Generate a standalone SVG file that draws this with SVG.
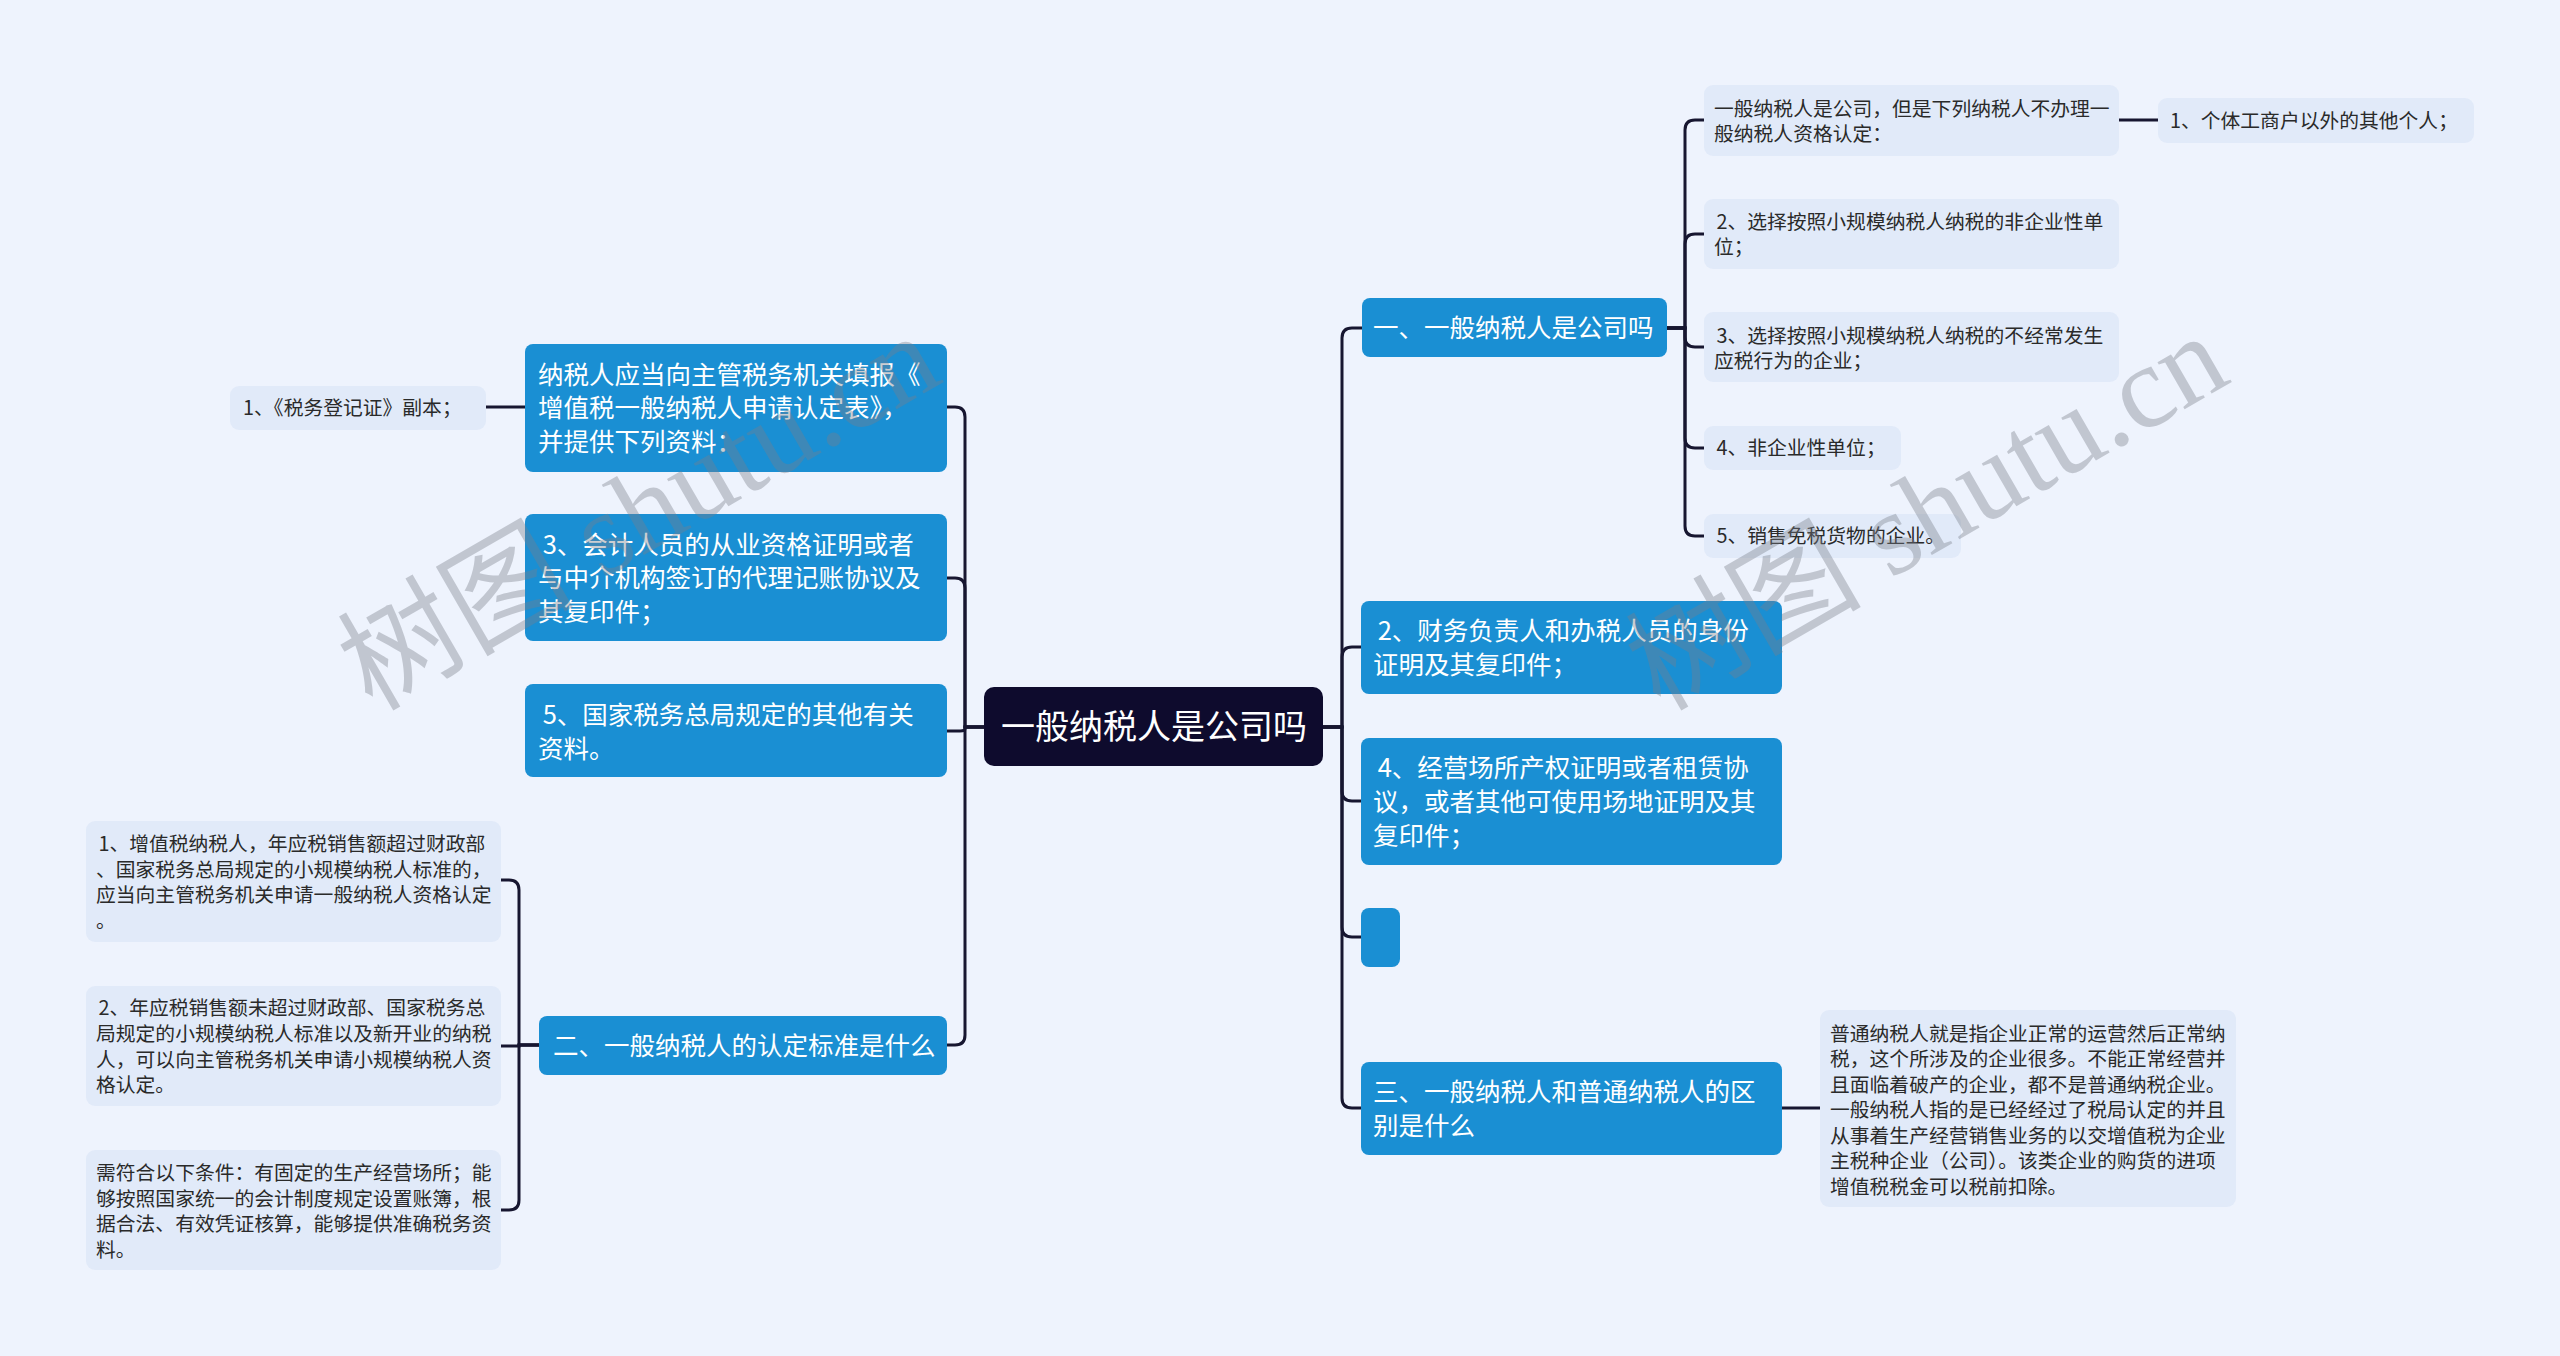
<svg xmlns="http://www.w3.org/2000/svg" width="2560" height="1356" viewBox="0 0 2560 1356">
<style>
.bg{fill:#eef3fd}
.root{fill:#0e0b2d}
.blue{fill:#1a8fd3}
.lite{fill:#e1eaf9}
.ln{fill:none;stroke:#171630;stroke-width:3;stroke-linecap:round}
text{font-family:"Noto Sans CJK SC","Noto Sans",sans-serif;dominant-baseline:central;white-space:pre}
.tr{fill:#ffffff;font-size:34px}
.tb{fill:#ffffff;font-size:25.5px}
.ts{fill:#2a2a2a;font-size:19.8px}
.wm{font-family:"Liberation Serif","Noto Sans CJK SC",serif;font-size:118px;fill:#7a7f8a;opacity:0.38;dominant-baseline:alphabetic}
</style>
<rect class="bg" x="0" y="0" width="2560" height="1356"/>

<g id="connectors">
<path class="ln" d="M1323 727 H1342 V338 Q1342 328 1352 328 H1362"/>
<path class="ln" d="M1323 727 H1342 V657 Q1342 647 1352 647 H1361"/>
<path class="ln" d="M1323 727 H1342 V791 Q1342 801 1352 801 H1361"/>
<path class="ln" d="M1323 727 H1342 V927 Q1342 937 1352 937 H1361"/>
<path class="ln" d="M1323 727 H1342 V1098 Q1342 1108 1352 1108 H1361"/>
<path class="ln" d="M1667 328 H1685 V130 Q1685 120 1695 120 H1704"/>
<path class="ln" d="M1667 328 H1685 V244 Q1685 234 1695 234 H1704"/>
<path class="ln" d="M1667 328 H1685 V337 Q1685 347 1695 347 H1704"/>
<path class="ln" d="M1667 328 H1685 V438 Q1685 448 1695 448 H1704"/>
<path class="ln" d="M1667 328 H1685 V526 Q1685 536 1695 536 H1704"/>
<path class="ln" d="M2119 120 H2158"/>
<path class="ln" d="M1782 1108 H1820"/>
<path class="ln" d="M984 727 H965 V417 Q965 407 955 407 H947"/>
<path class="ln" d="M984 727 H965 V588 Q965 578 955 578 H947"/>
<path class="ln" d="M984 727 H965 V729 Q965 731 960 731 H947"/>
<path class="ln" d="M984 727 H965 V1035 Q965 1045 955 1045 H947"/>
<path class="ln" d="M525 407 H486"/>
<path class="ln" d="M539 1045 H519 V890 Q519 880 509 880 H501"/>
<path class="ln" d="M539 1045 H519 V1046 H501"/>
<path class="ln" d="M539 1045 H519 V1200 Q519 1210 509 1210 H501"/>
</g>

<g id="root">
<rect class="root" x="984" y="687" width="339" height="79" rx="10"/>
<text class="tr" x="1001" y="724">一般纳税人是公司吗</text>
</g>

<g id="n-r1">
<rect class="blue" x="1362" y="298" width="305" height="59" rx="8"/>
<text class="tb" x="1373" y="325">一、一般纳税人是公司吗</text>
</g>
<g id="n-r1a">
<rect class="lite" x="1704" y="85" width="415" height="71" rx="9"/>
<text class="ts" x="1714" y="107">一般纳税人是公司，但是下列纳税人不办理一</text>
<text class="ts" x="1714" y="132">般纳税人资格认定：</text>
</g>
<g id="n-r1a1">
<rect class="lite" x="2158" y="98" width="316" height="45" rx="9"/>
<text class="ts" x="2170" y="119">1、个体工商户以外的其他个人；</text>
</g>
<g id="n-r1b">
<rect class="lite" x="1704" y="199" width="415" height="70" rx="9"/>
<text class="ts" x="1712" y="220"> 2、选择按照小规模纳税人纳税的非企业性单</text>
<text class="ts" x="1714" y="245">位；</text>
</g>
<g id="n-r1c">
<rect class="lite" x="1704" y="312" width="415" height="70" rx="9"/>
<text class="ts" x="1712" y="334"> 3、选择按照小规模纳税人纳税的不经常发生</text>
<text class="ts" x="1714" y="359">应税行为的企业；</text>
</g>
<g id="n-r1d">
<rect class="lite" x="1704" y="426" width="197" height="44" rx="9"/>
<text class="ts" x="1712" y="446"> 4、非企业性单位；</text>
</g>
<g id="n-r1e">
<rect class="lite" x="1704" y="514" width="257" height="44" rx="9"/>
<text class="ts" x="1712" y="534"> 5、销售免税货物的企业。</text>
</g>

<g id="n-r2">
<rect class="blue" x="1361" y="601" width="421" height="93" rx="8"/>
<text class="tb" x="1372" y="628"> 2、财务负责人和办税人员的身份</text>
<text class="tb" x="1373" y="662">证明及其复印件；</text>
</g>
<g id="n-r3">
<rect class="blue" x="1361" y="738" width="421" height="127" rx="8"/>
<text class="tb" x="1372" y="765"> 4、经营场所产权证明或者租赁协</text>
<text class="tb" x="1373" y="799">议，或者其他可使用场地证明及其</text>
<text class="tb" x="1373" y="833">复印件；</text>
</g>
<g id="n-r4">
<rect class="blue" x="1361" y="908" width="39" height="59" rx="8"/>
</g>
<g id="n-r5">
<rect class="blue" x="1361" y="1062" width="421" height="93" rx="8"/>
<text class="tb" x="1373" y="1089">三、一般纳税人和普通纳税人的区</text>
<text class="tb" x="1373" y="1123">别是什么</text>
</g>
<g id="n-r5a">
<rect class="lite" x="1820" y="1010" width="416" height="197" rx="9"/>
<text class="ts" x="1830" y="1032">普通纳税人就是指企业正常的运营然后正常纳</text>
<text class="ts" x="1830" y="1057">税，这个所涉及的企业很多。不能正常经营并</text>
<text class="ts" x="1830" y="1083">且面临着破产的企业，都不是普通纳税企业。</text>
<text class="ts" x="1830" y="1108">一般纳税人指的是已经经过了税局认定的并且</text>
<text class="ts" x="1830" y="1134">从事着生产经营销售业务的以交增值税为企业</text>
<text class="ts" x="1830" y="1159">主税种企业（公司）。该类企业的购货的进项</text>
<text class="ts" x="1830" y="1185">增值税税金可以税前扣除。</text>
</g>

<g id="n-l1">
<rect class="blue" x="525" y="344" width="422" height="128" rx="8"/>
<text class="tb" x="538" y="372">纳税人应当向主管税务机关填报《</text>
<text class="tb" x="538" y="405">增值税一般纳税人申请认定表》，</text>
<text class="tb" x="538" y="439">并提供下列资料：</text>
</g>
<g id="n-l1a">
<rect class="lite" x="230" y="386" width="256" height="44" rx="9"/>
<text class="ts" x="243" y="406">1、《税务登记证》副本；</text>
</g>
<g id="n-l2">
<rect class="blue" x="525" y="514" width="422" height="127" rx="8"/>
<text class="tb" x="537" y="542"> 3、会计人员的从业资格证明或者</text>
<text class="tb" x="538" y="575">与中介机构签订的代理记账协议及</text>
<text class="tb" x="538" y="609">其复印件；</text>
</g>
<g id="n-l3">
<rect class="blue" x="525" y="684" width="422" height="93" rx="8"/>
<text class="tb" x="537" y="712"> 5、国家税务总局规定的其他有关</text>
<text class="tb" x="538" y="746">资料。</text>
</g>
<g id="n-l4">
<rect class="blue" x="539" y="1016" width="408" height="59" rx="8"/>
<text class="tb" x="553" y="1043">二、一般纳税人的认定标准是什么</text>
</g>
<g id="n-l4a">
<rect class="lite" x="86" y="821" width="415" height="121" rx="9"/>
<text class="ts" x="94" y="842"> 1、增值税纳税人，年应税销售额超过财政部</text>
<text class="ts" x="96" y="868">、国家税务总局规定的小规模纳税人标准的，</text>
<text class="ts" x="96" y="893">应当向主管税务机关申请一般纳税人资格认定</text>
<text class="ts" x="96" y="919">。</text>
</g>
<g id="n-l4b">
<rect class="lite" x="86" y="986" width="415" height="120" rx="9"/>
<text class="ts" x="94" y="1006"> 2、年应税销售额未超过财政部、国家税务总</text>
<text class="ts" x="96" y="1032">局规定的小规模纳税人标准以及新开业的纳税</text>
<text class="ts" x="96" y="1058">人，可以向主管税务机关申请小规模纳税人资</text>
<text class="ts" x="96" y="1083">格认定。</text>
</g>
<g id="n-l4c">
<rect class="lite" x="86" y="1150" width="415" height="120" rx="9"/>
<text class="ts" x="96" y="1171">需符合以下条件：有固定的生产经营场所；能</text>
<text class="ts" x="96" y="1197">够按照国家统一的会计制度规定设置账簿，根</text>
<text class="ts" x="96" y="1222">据合法、有效凭证核算，能够提供准确税务资</text>
<text class="ts" x="96" y="1248">料。</text>
</g>

<g id="watermarks">
<text class="wm" transform="translate(372 712) rotate(-30)">树图 shutu.cn</text>
<text class="wm" transform="translate(1660 712) rotate(-30)">树图 shutu.cn</text>
</g>
</svg>
